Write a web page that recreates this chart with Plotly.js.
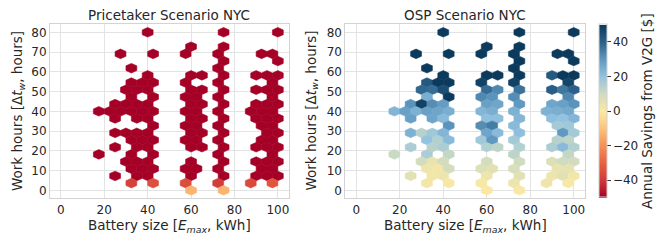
<!DOCTYPE html>
<html><head><meta charset="utf-8">
<script src="https://cdn.plot.ly/plotly-3.0.1.min.js"></script>
<style>html,body{margin:0;padding:0;background:#fff;}#chart{width:664px;height:246px;}</style>
</head><body><div id="chart"></div>
<script>
// Hexbin grid (matplotlib hexbin, gridsize 20): 0–100 kWh by 0–80 h
const gridXSpan = 100, gridYSpan = 80, gridNx = 20, gridNy = 11;

// Bin centres: battery size (kWh) and grid row (0 = bottom, row step = 80/22 h)
const hexX = [
  40, 75, 100,
  60, 75,
  27.5, 42.5, 57.5, 72.5, 92.5, 97.5,
  75, 100,
  32.5, 72.5,
  40, 60, 65, 75, 90, 95, 100,
  32.5, 37.5, 42.5, 57.5, 72.5, 97.5,
  30, 35, 40, 60, 65, 75, 90, 95, 100,
  32.5, 42.5, 57.5, 62.5, 72.5, 97.5,
  25, 30, 35, 40, 60, 65, 75, 90, 95, 100,
  17.5, 22.5, 27.5, 32.5, 37.5, 42.5, 57.5, 62.5, 72.5, 87.5, 92.5, 97.5,
  25, 35, 40, 60, 65, 75, 90, 95, 100,
  42.5, 57.5, 62.5, 72.5, 92.5, 97.5,
  25, 30, 35, 40, 60, 65, 75, 95, 100,
  32.5, 37.5, 42.5, 57.5, 62.5, 72.5, 92.5, 97.5,
  25, 35, 40, 60, 65, 75, 90, 95, 100,
  17.5, 32.5, 42.5, 72.5, 97.5,
  30, 35, 40, 60, 75, 90, 95, 100,
  32.5, 37.5, 42.5, 57.5, 62.5, 72.5, 92.5, 97.5,
  25, 35, 40, 60, 75, 90, 95, 100,
  32.5, 42.5, 57.5, 72.5, 87.5, 97.5,
  60, 75
];
const hexRow = [
  22, 22, 22,
  20, 20,
  19, 19, 19, 19, 19, 19,
  18, 18,
  17, 17,
  16, 16, 16, 16, 16, 16, 16,
  15, 15, 15, 15, 15, 15,
  14, 14, 14, 14, 14, 14, 14, 14, 14,
  13, 13, 13, 13, 13, 13,
  12, 12, 12, 12, 12, 12, 12, 12, 12, 12,
  11, 11, 11, 11, 11, 11, 11, 11, 11, 11, 11, 11,
  10, 10, 10, 10, 10, 10, 10, 10, 10,
  9, 9, 9, 9, 9, 9,
  8, 8, 8, 8, 8, 8, 8, 8, 8,
  7, 7, 7, 7, 7, 7, 7, 7,
  6, 6, 6, 6, 6, 6, 6, 6, 6,
  5, 5, 5, 5, 5,
  4, 4, 4, 4, 4, 4, 4, 4,
  3, 3, 3, 3, 3, 3, 3, 3,
  2, 2, 2, 2, 2, 2, 2, 2,
  1, 1, 1, 1, 1, 1,
  0, 0
];
// Annual savings from V2G ($), OSP scenario
const ospSavings = [
  50, 50, 50,
  50, 50,
  50, 50, 50, 50, 50, 50,
  50, 50,
  50, 50,
  50, 50, 50, 50, 42, 50, 50,
  42, 50, 50, 48, 48, 47,
  39, 38, 45, 38, 33, 37, 41, 36, 40,
  25, 50, 33, 31, 32, 33,
  31, 48, 32, 29, 28, 27, 30, 27, 28, 31,
  23, 28, 24, 28, 27, 25, 23, 25, 24, 24, 25, 26,
  28, 27, 22, 21, 21, 23, 21, 20, 23,
  31, 32, 35, 22, 17, 18,
  24, 14, 18, 23, 27, 22, 21, 30, 17,
  20, 15, 22, 18, 30, 17, 14, 13,
  16, 14, 16, 15, 13, 15, 16, 22, 15,
  11, 16, 12, 13, 12,
  9, 4, 9, 9, 10, 7, 10, 9,
  3, 2, 9, 7, 6, 8, 4, 5,
  6, 2, 3, 3, 6, 3, 6, 2,
  2, 1, 1, 3, 3, 1,
  0, 1
];
// Annual savings from V2G ($), price-taker scenario
const pricetakerSavings = [
  -50, -50, -50,
  -50, -50,
  -50, -50, -50, -50, -50, -50,
  -50, -50,
  -50, -50,
  -50, -50, -50, -50, -50, -50, -50,
  -50, -50, -50, -50, -50, -50,
  -50, -50, -50, -50, -50, -50, -50, -50, -50,
  -50, -50, -50, -50, -50, -50,
  -50, -50, -50, -50, -50, -50, -50, -50, -50, -50,
  -50, -50, -50, -50, -50, -50, -50, -50, -50, -50, -50, -50,
  -50, -50, -50, -50, -50, -50, -50, -50, -50,
  -50, -50, -50, -50, -50, -50,
  -50, -50, -50, -50, -50, -50, -50, -50, -50,
  -50, -50, -50, -50, -50, -50, -50, -50,
  -50, -50, -50, -50, -50, -50, -50, -50, -50,
  -50, -50, -50, -50, -50,
  -50, -50, -50, -50, -50, -50, -50, -50,
  -50, -50, -50, -50, -50, -50, -50, -50,
  -50, -50, -50, -50, -50, -50, -50, -50,
  -38, -34, -35, -39, -36, -33,
  -13, -13
];
const panelTitles = ['Pricetaker Scenario NYC', 'OSP Scenario NYC'];
const xTickVals = [0, 20, 40, 60, 80, 100];
const yTickVals = [0, 10, 20, 30, 40, 50, 60, 70, 80];
const cbTickVals = [-40, -20, 0, 20, 40];
const cMin = -50, cMax = 50;

const colorscale = [
  [0, '#a50026'], [0.1, '#d0393a'], [0.2, '#e8603f'], [0.3, '#f68f57'],
  [0.4, '#fcc27a'], [0.5, '#fbe9a3'], [0.6, '#cfdcc0'], [0.7, '#93c3df'],
  [0.8, '#5f98c0'], [0.9, '#2b6189'], [1, '#0c3a5c']
];
function hexToRgb(h){return [parseInt(h.slice(1,3),16),parseInt(h.slice(3,5),16),parseInt(h.slice(5,7),16)];}
function colorFor(v){
  let t = (v - cMin) / (cMax - cMin); t = Math.max(0, Math.min(1, t));
  for (let i = 1; i < colorscale.length; i++) {
    if (t <= colorscale[i][0]) {
      const [t0, c0] = colorscale[i-1], [t1, c1] = colorscale[i];
      const f = (t - t0) / (t1 - t0), a = hexToRgb(c0), b = hexToRgb(c1);
      return 'rgb(' + a.map((x, k) => Math.round(x + (b[k] - x) * f)).join(',') + ')';
    }
  }
  return colorscale[colorscale.length-1][1];
}

const sx = gridXSpan / gridNx, sy = gridYSpan / gridNy;
const hexY = hexRow.map(r => r * sy / 2);

const W = 664, H = 246;
const font = 'DejaVu Sans, sans-serif';
const txt = '#262626';
const traces = [];
[pricetakerSavings, ospSavings].forEach((vals, p) => {
  const xa = p ? 'x2' : 'x', ya = p ? 'y2' : 'y';
  hexX.forEach((cx, i) => {
    const cy = hexY[i], c = colorFor(vals[i]);
    traces.push({
      type: 'scatter', mode: 'lines', fill: 'toself', xaxis: xa, yaxis: ya,
      x: [cx+sx/2, cx+sx/2, cx, cx-sx/2, cx-sx/2, cx, cx+sx/2],
      y: [cy-sy/6, cy+sy/6, cy+sy/3, cy+sy/6, cy-sy/6, cy-sy/3, cy-sy/6],
      fillcolor: c, line: {color: c, width: 0.6}, hoverinfo: 'skip', showlegend: false
    });
  });
});
traces.push({
  type: 'scatter', mode: 'markers', xaxis: 'x2', yaxis: 'y2', x: hexX, y: hexY,
  hoverinfo: 'skip', showlegend: false,
  marker: {size: 1, opacity: 0, color: ospSavings, colorscale: colorscale, cmin: cMin, cmax: cMax,
    showscale: true,
    colorbar: {x: 599.3/W, xanchor: 'left', xpad: 0, y: 1 - 111/H, yanchor: 'middle',
      len: 172.6/H, lenmode: 'fraction', ypad: 0, thickness: 8, thicknessmode: 'pixels',
      outlinewidth: 1, outlinecolor: '#d0d0d0', tickvals: cbTickVals, ticks: 'outside',
      ticklen: 3.5, tickwidth: 1, tickcolor: '#333', tickfont: {family: font, size: 12, color: txt}}}
});

function xAxis(d){return {domain: d, range: [-5, 105], tickvals: xTickVals, showgrid: true, gridcolor: '#e3e3e3',
  gridwidth: 1, zeroline: false, showline: true, mirror: true, linecolor: '#d3d3d3', linewidth: 1, ticks: '',
  tickfont: {family: font, size: 12, color: txt}, fixedrange: true};}
function yAxis(d){return {domain: d, range: [-4, 84], tickvals: yTickVals, showgrid: true, gridcolor: '#e3e3e3',
  gridwidth: 1, zeroline: false, showline: true, mirror: true, linecolor: '#d3d3d3', linewidth: 1, ticks: '',
  tickfont: {family: font, size: 12, color: txt}, fixedrange: true};}
const yDom = [1 - 198.2/H, 1 - 24.4/H];
const xlab = 'Battery size [<i>E</i><sub><i>max</i></sub>, kWh]';
const ylab = 'Work hours [Δ<i>t</i><sub><i>w</i></sub>, hours]';
function ann(text, px, py, angle){return {text: text, x: px/W, y: 1 - py/H, xref: 'paper', yref: 'paper',
  xanchor: 'center', yanchor: 'middle', showarrow: false, textangle: angle || 0,
  font: {family: font, size: 13.5, color: txt}};}
const layout = {
  width: W, height: H, margin: {l: 0, r: 0, t: 0, b: 0}, paper_bgcolor: '#fff', plot_bgcolor: '#fff',
  xaxis: Object.assign(xAxis([50/W, 288.7/W]), {anchor: 'y'}),
  yaxis: Object.assign(yAxis(yDom), {anchor: 'x'}),
  xaxis2: Object.assign(xAxis([345.4/W, 584.6/W]), {anchor: 'y2'}),
  yaxis2: Object.assign(yAxis(yDom), {anchor: 'x2'}),
  annotations: [
    ann(panelTitles[0], 169.4, 15), ann(panelTitles[1], 465, 15),
    ann(xlab, 169.4, 226), ann(xlab, 465, 226),
    ann(ylab, 18, 111, -90), ann(ylab, 311.5, 111, -90),
    ann('Annual Savings from V2G [$]', 647, 111, -90)
  ],
  showlegend: false
};
Plotly.newPlot('chart', traces, layout, {staticPlot: true, displayModeBar: false});
</script></body></html>
